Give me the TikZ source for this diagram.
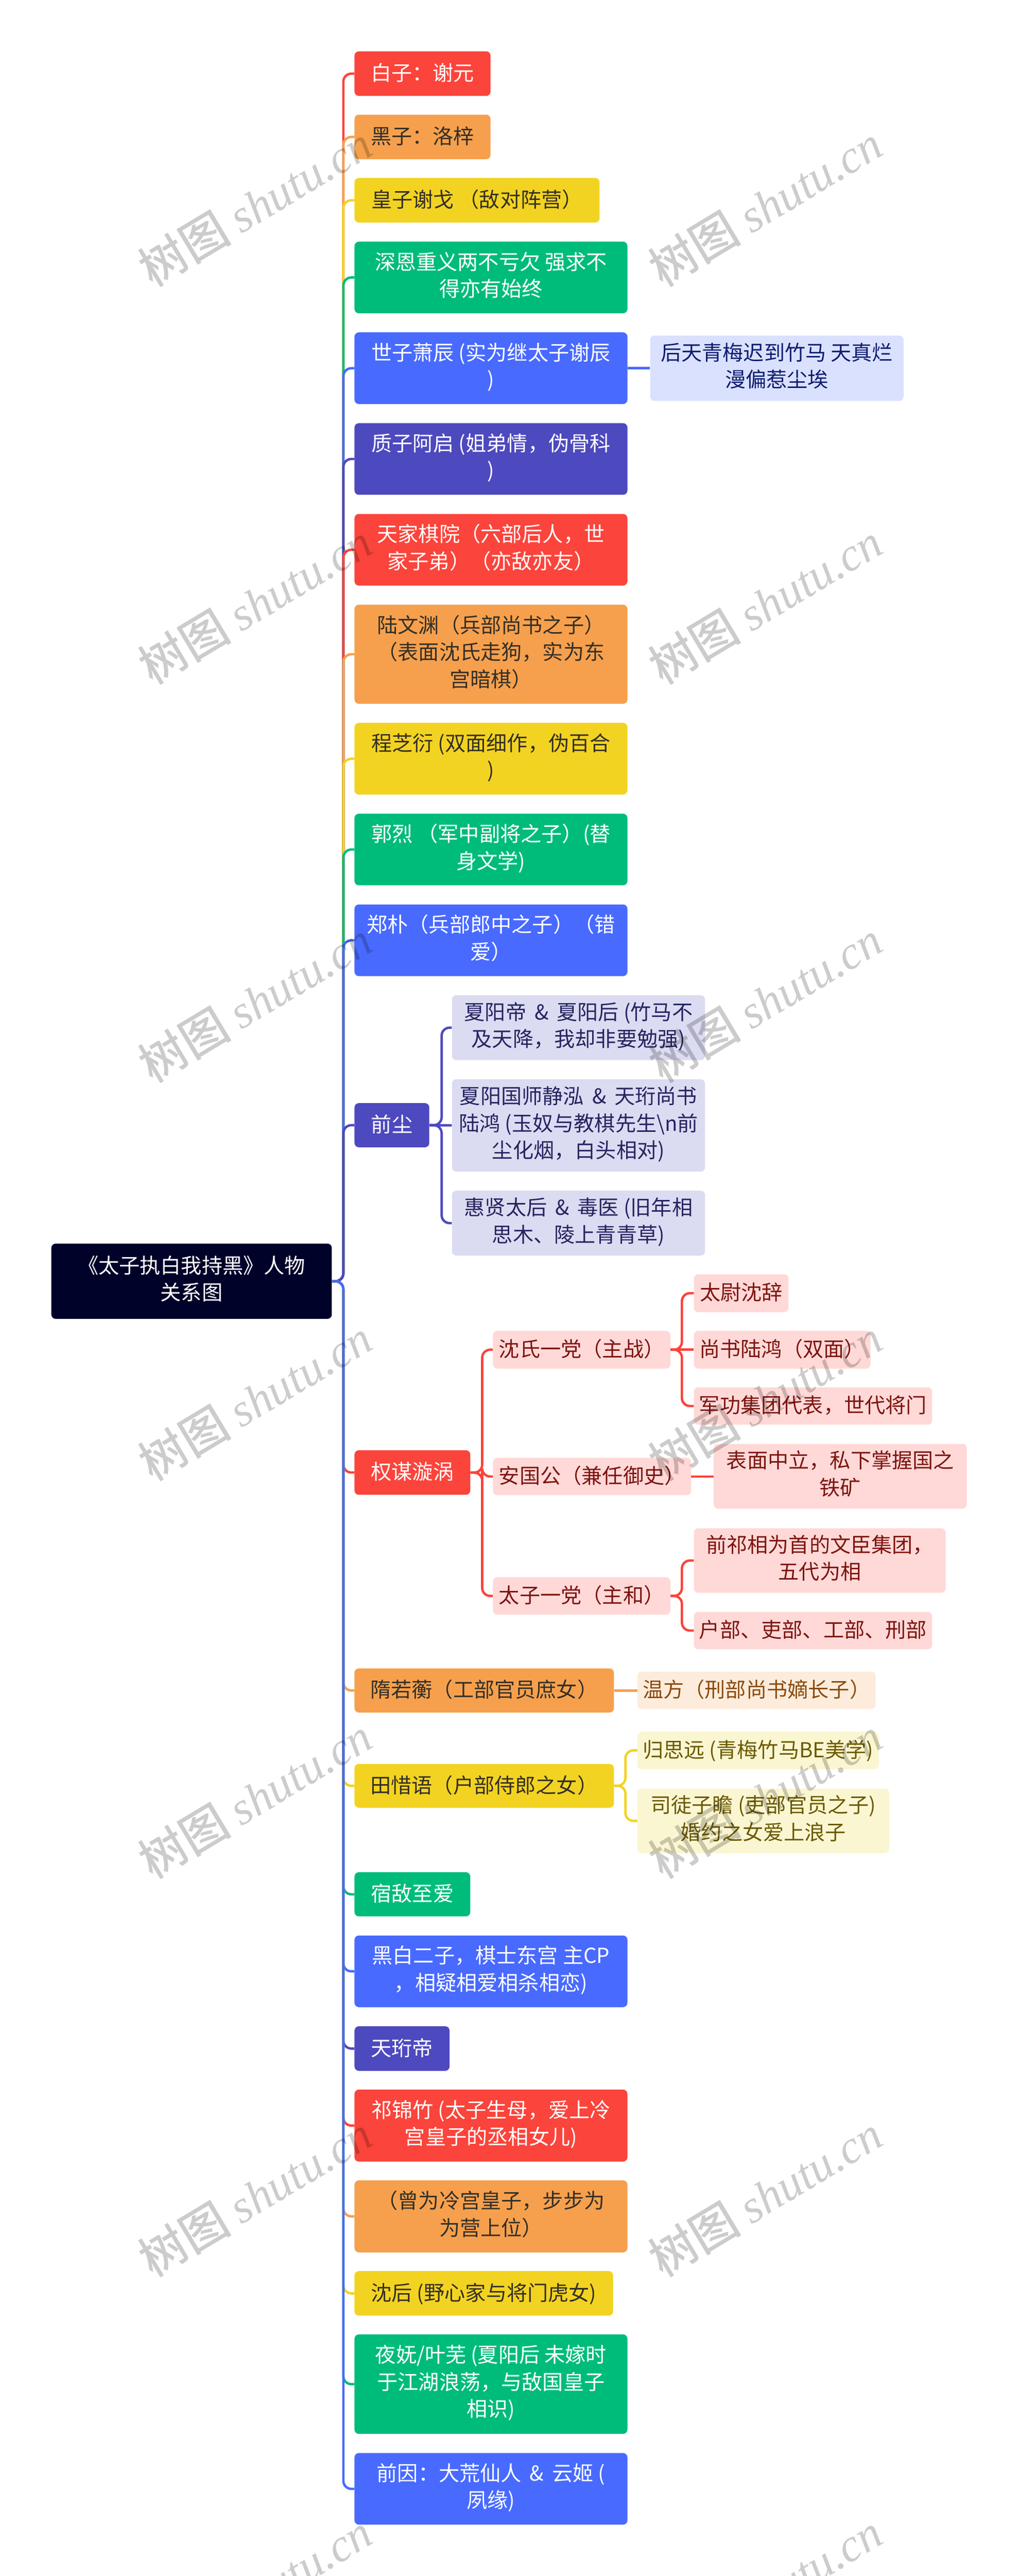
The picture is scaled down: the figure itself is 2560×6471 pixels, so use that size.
\documentclass[tikz,border=0pt]{standalone}
\usepackage{fontspec}
\setmainfont{Noto Sans CJK SC}
\newfontfamily\wmcjk[AutoFakeSlant=0.22]{Noto Sans CJK SC Medium}
\newfontfamily\wmlat{Liberation Serif}
\usetikzlibrary{calc}
\newcommand\mystrut{\rule[-8.1pt]{0pt}{34pt}}
\newcommand\am{~\hspace{4.5pt}\&\hspace{4.5pt}~}
\definecolor{cred}{HTML}{FB443B}
\definecolor{corange}{HTML}{F6A04D}
\definecolor{cyellow}{HTML}{F3D321}
\definecolor{cgreen}{HTML}{00BC7B}
\definecolor{cblue}{HTML}{486AFF}
\definecolor{cpurple}{HTML}{4D49BE}
\definecolor{croot}{HTML}{000229}
\definecolor{tdark}{HTML}{332F26}
\definecolor{pblue}{HTML}{DAE1FF}
\definecolor{tblue}{HTML}{0E1C70}
\definecolor{ppurple}{HTML}{DBDBF2}
\definecolor{tpurple}{HTML}{26245F}
\definecolor{pred}{HTML}{FFD9D7}
\definecolor{tred}{HTML}{7D1410}
\definecolor{porange}{HTML}{FDECDB}
\definecolor{torange}{HTML}{8A4B0E}
\definecolor{pyellow}{HTML}{FBF6D2}
\definecolor{tyellow}{HTML}{6B5A00}
\tikzset{
  bx/.style={rectangle,rounded corners=5.5pt,inner sep=0pt,align=center,
    font=\fontsize{26}{34}\selectfont,execute at begin node=\mystrut,execute at end node=\mystrut},
  rootb/.style={bx,fill=croot,text=white},
  bred/.style={bx,fill=cred,text=white},
  borange/.style={bx,fill=corange,text=tdark},
  byellow/.style={bx,fill=cyellow,text=tdark},
  bgreen/.style={bx,fill=cgreen,text=white},
  bblue/.style={bx,fill=cblue,text=white},
  bpurple/.style={bx,fill=cpurple,text=white},
  sblue/.style={bx,fill=pblue,text=tblue},
  spurple/.style={bx,fill=ppurple,text=tpurple},
  sred/.style={bx,fill=pred,text=tred},
  sorange/.style={bx,fill=porange,text=torange},
  syellow/.style={bx,fill=pyellow,text=tyellow},
  conn/.style={line width=3pt,rounded corners=10pt},
  wm/.style={rotate=31,text=black,text opacity=0.2,inner sep=0pt,font=\fontsize{58.5}{58.5}\selectfont},
}
% name, x1, y1, x2, y2, style, text
\newcommand\bx[7]{\node[#6,minimum width={(#4-#2)*0.5pt},minimum height={(#5-#3)*0.5pt}] (#1) at ({(#2+#4)/2},{(#3+#5)/2}) {#7};}
% colour, from node, junction x, to node
\newcommand\elbow[4]{\draw[conn,#1] (#2.east) -- (#3,0 |- #2.east) -- (#3,0 |- #4.west) -- (#4.west);}
\newcommand\wmark[3]{\node[wm] (#1) at (#2,#3) {{\wmcjk 树图} {\wmlat\itshape shutu.cn}};}
\begin{document}
\begin{tikzpicture}[x=0.5pt,y=-0.5pt]
\useasboundingbox (0,0) rectangle (2560,6471);
\fill[white] (0,0) rectangle (2560,6471);
\bx{root}{129}{3124}{834}{3313}{rootb}{《太子执白我持黑》人物\\关系图}
\bx{n1}{891}{129}{1233}{241}{bred}{白子：谢元}
\bx{n2}{891}{288}{1233}{400}{borange}{黑子：洛梓}
\bx{n3}{891}{447}{1507}{559}{byellow}{皇子谢戈 （敌对阵营）}
\bx{n4}{891}{607}{1577}{787}{bgreen}{深恩重义两不亏欠 强求不\\得亦有始终}
\bx{n5}{891}{835}{1577}{1015}{bblue}{世子萧辰 (实为继太子谢辰\\)}
\bx{n6}{891}{1063}{1577}{1243}{bpurple}{质子阿启 (姐弟情，伪骨科\\)}
\bx{n7}{891}{1291}{1577}{1471}{bred}{天家棋院（六部后人，世\\家子弟）（亦敌亦友）}
\bx{n8}{891}{1519}{1577}{1768}{borange}{陆文渊（兵部尚书之子）\\（表面沈氏走狗，实为东\\宫暗棋）}
\bx{n9}{891}{1816}{1577}{1996}{byellow}{程芝衍 (双面细作，伪百合\\)}
\bx{n10}{891}{2044}{1577}{2224}{bgreen}{郭烈 （军中副将之子）(替\\身文学)}
\bx{n11}{891}{2272}{1577}{2452}{bblue}{郑朴（兵部郎中之子）（错\\爱）}
\bx{n12}{891}{2771}{1079}{2882}{bpurple}{前尘}
\bx{n13}{891}{3643}{1182}{3755}{bred}{权谋漩涡}
\bx{n14}{891}{4191}{1543}{4302}{borange}{隋若蘅（工部官员庶女）}
\bx{n15}{891}{4431}{1543}{4541}{byellow}{田惜语（户部侍郎之女）}
\bx{n16}{891}{4703}{1182}{4814}{bgreen}{宿敌至爱}
\bx{n17}{891}{4862}{1577}{5042}{bblue}{黑白二子，棋士东宫 主CP\\，相疑相爱相杀相恋)}
\bx{n18}{891}{5090}{1130}{5202}{bpurple}{天珩帝}
\bx{n19}{891}{5249}{1577}{5430}{bred}{祁锦竹 (太子生母，爱上冷\\宫皇子的丞相女儿)}
\bx{n20}{891}{5477}{1577}{5658}{borange}{（曾为冷宫皇子，步步为\\为营上位）}
\bx{n21}{891}{5705}{1541}{5817}{byellow}{沈后 (野心家与将门虎女)}
\bx{n22}{891}{5864}{1577}{6114}{bgreen}{夜妩/叶芜 (夏阳后 未嫁时\\于江湖浪荡，与敌国皇子\\相识)}
\bx{n23}{891}{6162}{1577}{6342}{bblue}{前因：大荒仙人\am 云姬 (\\夙缘)}
% children
\bx{c5}{1634}{843}{2271}{1007}{sblue}{后天青梅迟到竹马 天真烂\\漫偏惹尘埃}
\bx{c12a}{1136}{2500}{1772}{2663}{spurple}{夏阳帝\am 夏阳后 (竹马不\\及天降，我却非要勉强)}
\bx{c12b}{1136}{2711}{1772}{2943}{spurple}{夏阳国师静泓\am 天珩尚书\\陆鸿 (玉奴与教棋先生\textbackslash n前\\尘化烟，白头相对)}
\bx{c12c}{1136}{2991}{1772}{3154}{spurple}{惠贤太后\am 毒医 (旧年相\\思木、陵上青青草)}
\bx{c13a}{1239}{3343}{1685}{3438}{sred}{沈氏一党（主战）}
\bx{c13b}{1239}{3662}{1737}{3756}{sred}{安国公（兼任御史）}
\bx{c13c}{1239}{3962}{1685}{4056}{sred}{太子一党（主和）}
\bx{d1}{1744}{3201}{1982}{3296}{sred}{太尉沈辞}
\bx{d2}{1744}{3343}{2188}{3438}{sred}{尚书陆鸿（双面）}
\bx{d3}{1744}{3485}{2343}{3579}{sred}{军功集团代表，世代将门}
\bx{d4}{1794}{3627}{2430}{3790}{sred}{表面中立，私下掌握国之\\铁矿}
\bx{d5}{1744}{3839}{2377}{4001}{sred}{前祁相为首的文臣集团，\\五代为相}
\bx{d6}{1744}{4049}{2343}{4143}{sred}{户部、吏部、工部、刑部}
\bx{c14}{1602}{4199}{2201}{4293}{sorange}{温方（刑部尚书嫡长子）}
\bx{c15a}{1602}{4350}{2209}{4444}{syellow}{归思远 (青梅竹马BE美学)}
\bx{c15b}{1602}{4493}{2235}{4655}{syellow}{司徒子瞻 (吏部官员之子)\\婚约之女爱上浪子}
% connectors
\foreach \nn/\cc in {n1/cred,n2/corange,n3/cyellow,n4/cgreen,n5/cblue,n6/cpurple,n7/cred,n8/corange,n9/cyellow,n10/cgreen,n11/cblue,n12/cpurple,n13/cred,n14/corange,n15/cyellow,n16/cgreen,n17/cblue,n18/cpurple,n19/cred,n20/corange,n21/cyellow,n22/cgreen,n23/cblue}{
  \elbow{\cc}{root}{863}{\nn}
}
\elbow{cpurple}{n12}{1110}{c12a}
\elbow{cpurple}{n12}{1110}{c12c}
\draw[conn,cpurple] (n12.east) -- (c12b.west);
\draw[conn,cblue] (n5.east) -- (c5.west);
\elbow{cred}{n13}{1212}{c13a}
\elbow{cred}{n13}{1212}{c13b}
\elbow{cred}{n13}{1212}{c13c}
\elbow{cred}{c13a}{1714}{d1}
\draw[conn,cred] (c13a.east) -- (d2.west);
\elbow{cred}{c13a}{1714}{d3}
\draw[conn,cred] (c13b.east) -- (c13b.east -| d4.west);
\elbow{cred}{c13c}{1714}{d5}
\elbow{cred}{c13c}{1714}{d6}
\draw[conn,corange] (n14.east) -- (n14.east -| c14.west);
\elbow{cyellow}{n15}{1572}{c15a}
\elbow{cyellow}{n15}{1572}{c15b}
% watermarks
\foreach \yy [count=\i] in {516,1516,2516,3516,4516,5516,6516}{
  \wmark{wl\i}{641}{\yy}
  \wmark{wr\i}{1923}{\yy}
}
\end{tikzpicture}
\end{document}
